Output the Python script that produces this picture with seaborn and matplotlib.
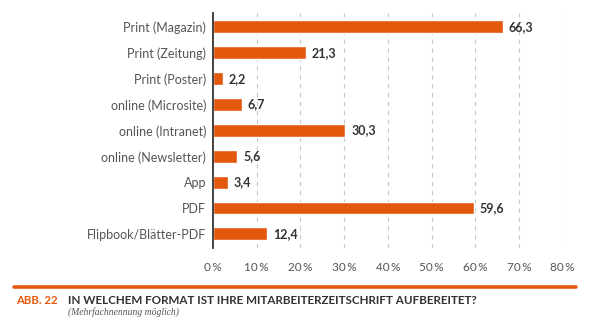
import matplotlib
matplotlib.use("Agg")
import matplotlib.pyplot as plt
import seaborn as sns
import pandas as pd

# Daten
formate = ['Print (Magazin)', 'Print (Zeitung)', 'Print (Poster)', 'online (Microsite)',
           'online (Intranet)', 'online (Newsletter)', 'App', 'PDF', 'Flipbook/Blätter-PDF']
anteile = [66.3, 21.3, 2.2, 6.7, 30.3, 5.6, 3.4, 59.6, 12.4]
x_ticks = [0, 10, 20, 30, 40, 50, 60, 70, 80]

data = pd.DataFrame({'Format': formate, 'Anteil': anteile})

orange = '#E4580E'
grau = '#555555'

sns.set_style('white')
plt.rcParams['font.family'] = ['Lato', 'DejaVu Sans']

fig = plt.figure(figsize=(6, 3.26), dpi=100)
ax = fig.add_axes([0.355, 0.239, 0.583, 0.722])

sns.barplot(data=data, x='Anteil', y='Format', color=orange, width=0.5,
            saturation=1, ax=ax, zorder=3)

ax.set_xlim(0, 80)
ax.set_ylim(len(formate) - 0.45, -0.55)
ax.set_xticks(x_ticks)
ax.set_xticklabels([f'{t}\u2009%' for t in x_ticks], color=grau, fontsize=8.5)
ax.tick_params(axis='x', length=0, pad=10)
ax.tick_params(axis='y', length=0, pad=5, labelsize=9, labelcolor=grau)
ax.set_xlabel('')
ax.set_ylabel('')

for t in x_ticks[1:]:
    ax.axvline(t, color='#c8c8c8', lw=0.8, ls=(0, (4, 4)), zorder=1)

for s in ['top', 'right', 'bottom']:
    ax.spines[s].set_visible(False)
ax.spines['left'].set_color('#333333')
ax.spines['left'].set_linewidth(1.3)
ax.spines['left'].set_zorder(4)

# Wertbeschriftungen
for i, v in enumerate(anteile):
    ax.text(v + 1.3, i, f'{v:.1f}'.replace('.', ','), va='center', ha='left',
            fontsize=9, fontweight='bold', color='#333333')

# Fußzeile
fig.add_artist(plt.Line2D([14 / 600, 576 / 600], [1 - 287 / 326] * 2, color=orange, lw=2.6))
fig.text(16 / 600, 1 - 300 / 326, 'ABB. 22', color=orange, fontsize=8.2,
         fontweight='bold', va='center')
fig.text(68 / 600, 1 - 300 / 326, 'IN WELCHEM FORMAT IST IHRE MITARBEITERZEITSCHRIFT AUFBEREITET?',
         color='#333333', fontsize=8.4, fontweight='bold', va='center')
fig.text(68 / 600, 1 - 312 / 326, '(Mehrfachnennung möglich)', color=grau, fontsize=6.9,
         style='italic', family='Liberation Serif', va='center')

fig.savefig('out.png', dpi=100)
